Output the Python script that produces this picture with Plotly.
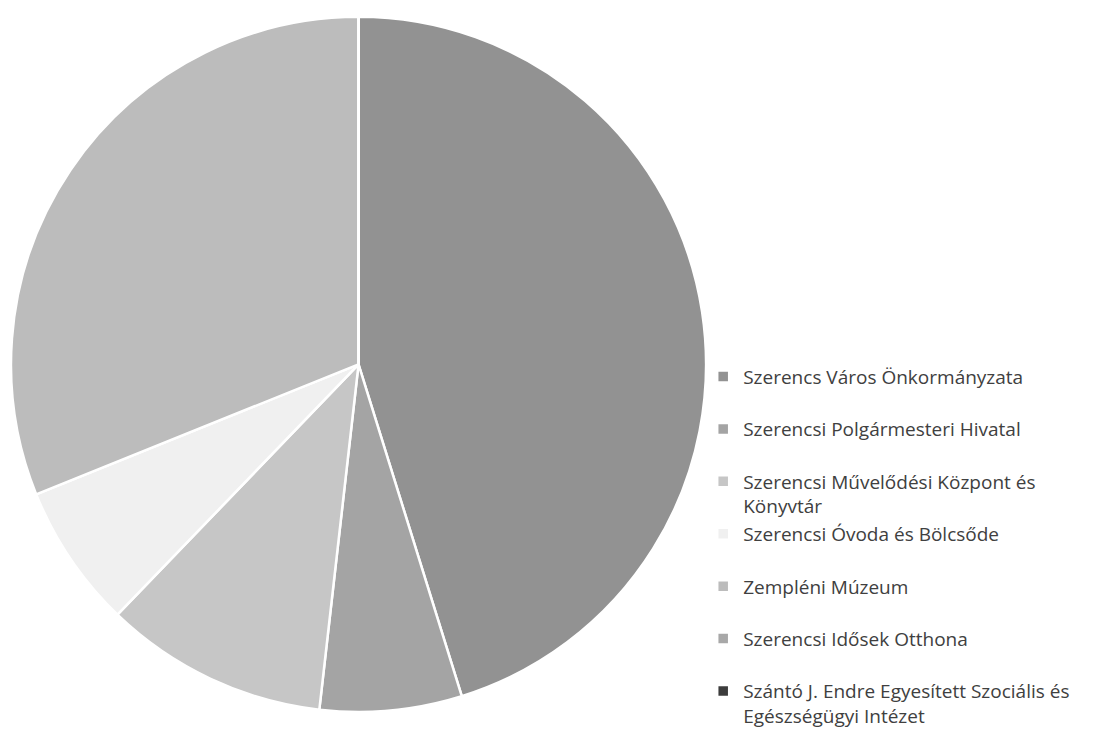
import plotly.graph_objects as go

labels = [
    "Szerencs Város Önkormányzata",
    "Szerencsi Polgármesteri Hivatal",
    "Szerencsi Művelődési Központ és<br>Könyvtár",
    "Szerencsi Óvoda és Bölcsőde",
    "Zempléni Múzeum",
    "Szerencsi Idősek Otthona",
    "Szántó J. Endre Egyesített Szociális és<br>Egészségügyi Intézet",
]
values = [45.2, 6.6, 10.4, 6.7, 31.1, 0, 0]
colors = ["#929292", "#a4a4a4", "#c6c6c6", "#f0f0f0", "#bcbcbc", "#a8a8a8", "#3c3c3c"]

# pad single-line legend names with a blank line for Excel-like spacing
legend_names = [l if "<br>" in l else l + "<br> " for l in labels]

fig = go.Figure(go.Pie(
    labels=legend_names,
    values=values,
    sort=False,
    direction="clockwise",
    rotation=0,
    textinfo="none",
    hoverinfo="label+percent",
    marker=dict(colors=colors, line=dict(color="white", width=2.5)),
    domain=dict(x=[0.0027, 0.6306], y=[0.052, 0.99]),
))

fig.update_layout(
    width=1107, height=744,
    margin=dict(l=0, r=0, t=0, b=0),
    paper_bgcolor="white",
    plot_bgcolor="white",
    font=dict(family="Open Sans", size=19, color="#404040"),
    legend=dict(
        x=0.628, xanchor="left",
        y=0.53, yanchor="top",
        valign="top",
        font=dict(size=19, color="#404040"),
        bgcolor="rgba(0,0,0,0)",
    ),
)

fig.write_html("out.html")
